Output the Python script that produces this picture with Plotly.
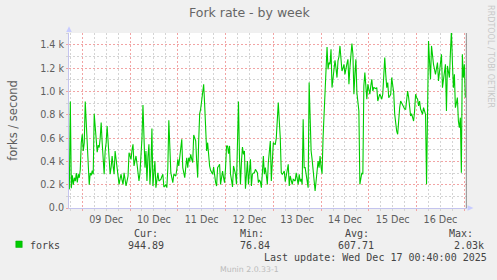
import plotly.graph_objects as go
import pandas as pd

# ---------------- data ----------------
sample_start = "2025-12-08 17:30"
sample_step = "30min"
fork_values = [
    160, 915, 170, 280, 200, 260, 230, 300, 220, 290, 260, 330, 560, 633, 490, 560, 915, 700, 547, 420,
    200, 300, 280, 320, 290, 810, 700, 633, 480, 540, 520, 600, 733, 560, 403, 290, 490, 560, 704, 520,
    403, 290, 350, 447, 360, 290, 490, 420, 347, 260, 203, 250, 290, 240, 203, 303, 250, 189, 230, 275,
    475, 430, 418, 500, 547, 361, 400, 447, 380, 318, 232, 300, 461, 600, 885, 600, 347, 490, 232, 440,
    547, 203, 350, 682, 189, 300, 403, 175, 250, 303, 232, 240, 246, 270, 290, 180, 190, 200, 175, 347,
    753, 500, 303, 260, 218, 290, 280, 275, 330, 418, 361, 450, 547, 590, 347, 300, 261, 350, 432, 347,
    432, 400, 461, 420, 390, 627, 600, 576, 400, 261, 576, 810, 850, 920, 942, 1063, 890, 700, 490, 561,
    403, 360, 324, 300, 290, 352, 261, 220, 189, 347, 360, 375, 203, 260, 318, 260, 218, 347, 533, 533,
    467, 533, 290, 240, 180, 361, 320, 290, 203, 500, 915, 432, 203, 400, 524, 461, 490, 166, 300, 403,
    203, 300, 418, 189, 290, 300, 303, 332, 320, 303, 218, 240, 226, 175, 300, 447, 290, 347, 280, 203,
    390, 480, 576, 232, 390, 561, 550, 547, 600, 719, 905, 750, 604, 303, 290, 300, 318, 226, 290, 347,
    375, 189, 275, 240, 203, 246, 240, 232, 303, 250, 203, 290, 226, 250, 203, 762, 347, 347, 290, 203,
    175, 1077, 700, 490, 418, 300, 232, 146, 232, 300, 403, 347, 447, 350, 295, 604, 800, 1034, 1200, 1383,
    1191, 1250, 1234, 1363, 1034, 1100, 1177, 1269, 1200, 1120, 1263, 1300, 1392, 1292, 1177, 1200, 1234, 1148, 1206, 1240,
    1277, 1063, 1206, 1300, 1412, 1320, 977, 1150, 1277, 991, 905, 833, 203, 260, 303, 290, 1048, 1163, 1050, 934,
    1063, 1000, 977, 1050, 1105, 1005, 1034, 1030, 1025, 1034, 919, 950, 977, 960, 934, 977, 1150, 1292, 1150, 1034,
    1077, 948, 960, 977, 1120, 1050, 991, 805, 690, 660, 633, 805, 862, 919, 900, 876, 862, 850, 848, 919,
    1005, 950, 890, 790, 810, 780, 747, 833, 977, 950, 934, 876, 919, 850, 819, 805, 862, 830, 805, 203,
    977, 1435, 1263, 1105, 1392, 1300, 1234, 1191, 1148, 1200, 1249, 1091, 1191, 1250, 1320, 1034, 1120, 1180, 1234, 833,
    1220, 1170, 1120, 1335, 1520, 1250, 1034, 1148, 862, 900, 948, 747, 690, 776, 303, 1320, 1120, 1234, 948,
]
y_tick_values = [0, 200, 400, 600, 800, 1000, 1200, 1400]
y_tick_labels = ["0.0", "0.2 k", "0.4 k", "0.6 k", "0.8 k", "1.0 k", "1.2 k", "1.4 k"]
x_range = ["2025-12-08 17:20", "2025-12-17 01:20"]
y_range = [0, 1503]
now_marker = "2025-12-17 00:59"

series_name = "forks"
stat_headers = ["Cur:", "Min:", "Avg:", "Max:"]
stat_values = ["944.89", "76.84", "607.71", "2.03k"]
title_text = "Fork rate - by week"
y_title = "forks / second"
last_update = "Last update: Wed Dec 17 00:40:00 2025"
footer = "Munin 2.0.33-1"
side_text = "RRDTOOL / TOBI OETIKER"

times = pd.date_range(sample_start, periods=len(fork_values), freq=sample_step)

# ---------------- layout geometry ----------------
W, H = 497, 280
L, R, T, B = 67, 30, 33, 72
PW, PH = W - L - R, H - T - B


def px(x):
    return (x - L) / PW


def py(y):
    return (H - B - y) / PH


SANS = "DejaVu Sans"
MONO = "DejaVu Sans Mono"
AXIS_COL = "#C4C4EE"
RED_GRID = "#F2A4A4"
GRAY_GRID = "#D4D4D4"
TXT = "#5E5E5E"

fig = go.Figure()
fig.add_trace(go.Scatter(
    x=times, y=fork_values, mode="lines",
    line=dict(color="#00CC00", width=1.1),
    hoverinfo="skip", showlegend=False,
))

fig.update_layout(
    width=W, height=H,
    margin=dict(l=L, r=R, t=T, b=B, pad=0),
    paper_bgcolor="#F0F0F0",
    plot_bgcolor="#FFFFFF",
    showlegend=False,
    font=dict(family=SANS, color=TXT, size=9.6),
)

fig.update_xaxes(
    type="date", range=x_range,
    dtick=86400000, tick0="2025-12-09 00:00",
    ticklabelmode="period", tickformat="%d %b",
    tickfont=dict(family=SANS, size=9.6, color=TXT),
    showgrid=True, gridcolor=RED_GRID, griddash="2px,2px", gridwidth=1,
    minor=dict(dtick=21600000, showgrid=True, gridcolor=GRAY_GRID,
               griddash="2px,2px", gridwidth=1,
               ticks="outside", ticklen=2, tickcolor=GRAY_GRID),
    showline=True, linecolor=AXIS_COL, linewidth=1,
    ticks="outside", ticklen=2, tickcolor=RED_GRID,
    zeroline=False, fixedrange=True,
)
fig.update_yaxes(
    range=y_range,
    tickvals=y_tick_values, ticktext=y_tick_labels,
    tickfont=dict(family=SANS, size=9.6, color=TXT),
    showgrid=True, gridcolor=RED_GRID, griddash="2px,2px", gridwidth=1,
    minor=dict(dtick=100, tick0=0, showgrid=True, gridcolor=GRAY_GRID,
               griddash="2px,2px", gridwidth=1,
               ticks="outside", ticklen=2, tickcolor=GRAY_GRID),
    showline=True, linecolor=AXIS_COL, linewidth=1,
    ticks="outside", ticklen=2, tickcolor=RED_GRID,
    zeroline=False, fixedrange=True,
    title=dict(text=y_title, font=dict(family=SANS, size=11.5, color=TXT), standoff=20),
)

shapes = []
# "now" marker line
shapes.append(dict(type="line", xref="x", yref="paper", x0=now_marker, x1=now_marker,
                   y0=0, y1=1, line=dict(color="#888888", width=1)))
# axis arrows
shapes.append(dict(type="path", xref="paper", yref="paper",
                   path=f"M {px(64.2)} {py(32)} L {px(69.8)} {py(32)} L {px(67)} {py(26.3)} Z",
                   fillcolor="#C8CCFF", line=dict(width=0)))
shapes.append(dict(type="path", xref="paper", yref="paper",
                   path=f"M {px(467.5)} {py(205.3)} L {px(467.5)} {py(210.7)} L {px(473.5)} {py(208)} Z",
                   fillcolor="#C8CCFF", line=dict(width=0)))
# legend colour box
shapes.append(dict(type="rect", xref="paper", yref="paper",
                   x0=px(13.5), x1=px(20), y0=py(247.5), y1=py(241),
                   fillcolor="#00CC00", line=dict(color="#00AA00", width=0.5)))
fig.update_layout(shapes=shapes)

ann = []


def text(x, y, s, size, color, family=SANS, xanchor="left", angle=0):
    ann.append(dict(xref="paper", yref="paper", x=px(x), y=py(y), text=s,
                    showarrow=False, xanchor=xanchor, yanchor="middle",
                    textangle=angle, borderpad=0,
                    font=dict(family=family, size=size, color=color)))


text(248.5, 13, title_text, 12.5, "#666666", xanchor="center")
text(491, 57, side_text, 8, "#C8C8C8", xanchor="center", angle=90)

header_x = [131.7, 237.7, 343.3, 447.7]
value_x = [125.7, 237.7, 336.7, 453.3]
for hx, hs in zip(header_x, stat_headers):
    text(hx, 233.5, hs, 10, "#444444", family=MONO)
for vx, vs in zip(value_x, stat_values):
    text(vx, 245, vs, 10, "#444444", family=MONO)
text(26.7, 245, series_name, 10, "#444444", family=MONO)
text(261.7, 257.5, last_update, 10, "#444444", family=MONO)
text(248.7, 269.5, footer, 7.8, "#BBBBBB", xanchor="center")

fig.update_layout(annotations=ann)

fig.write_html("out.html")
